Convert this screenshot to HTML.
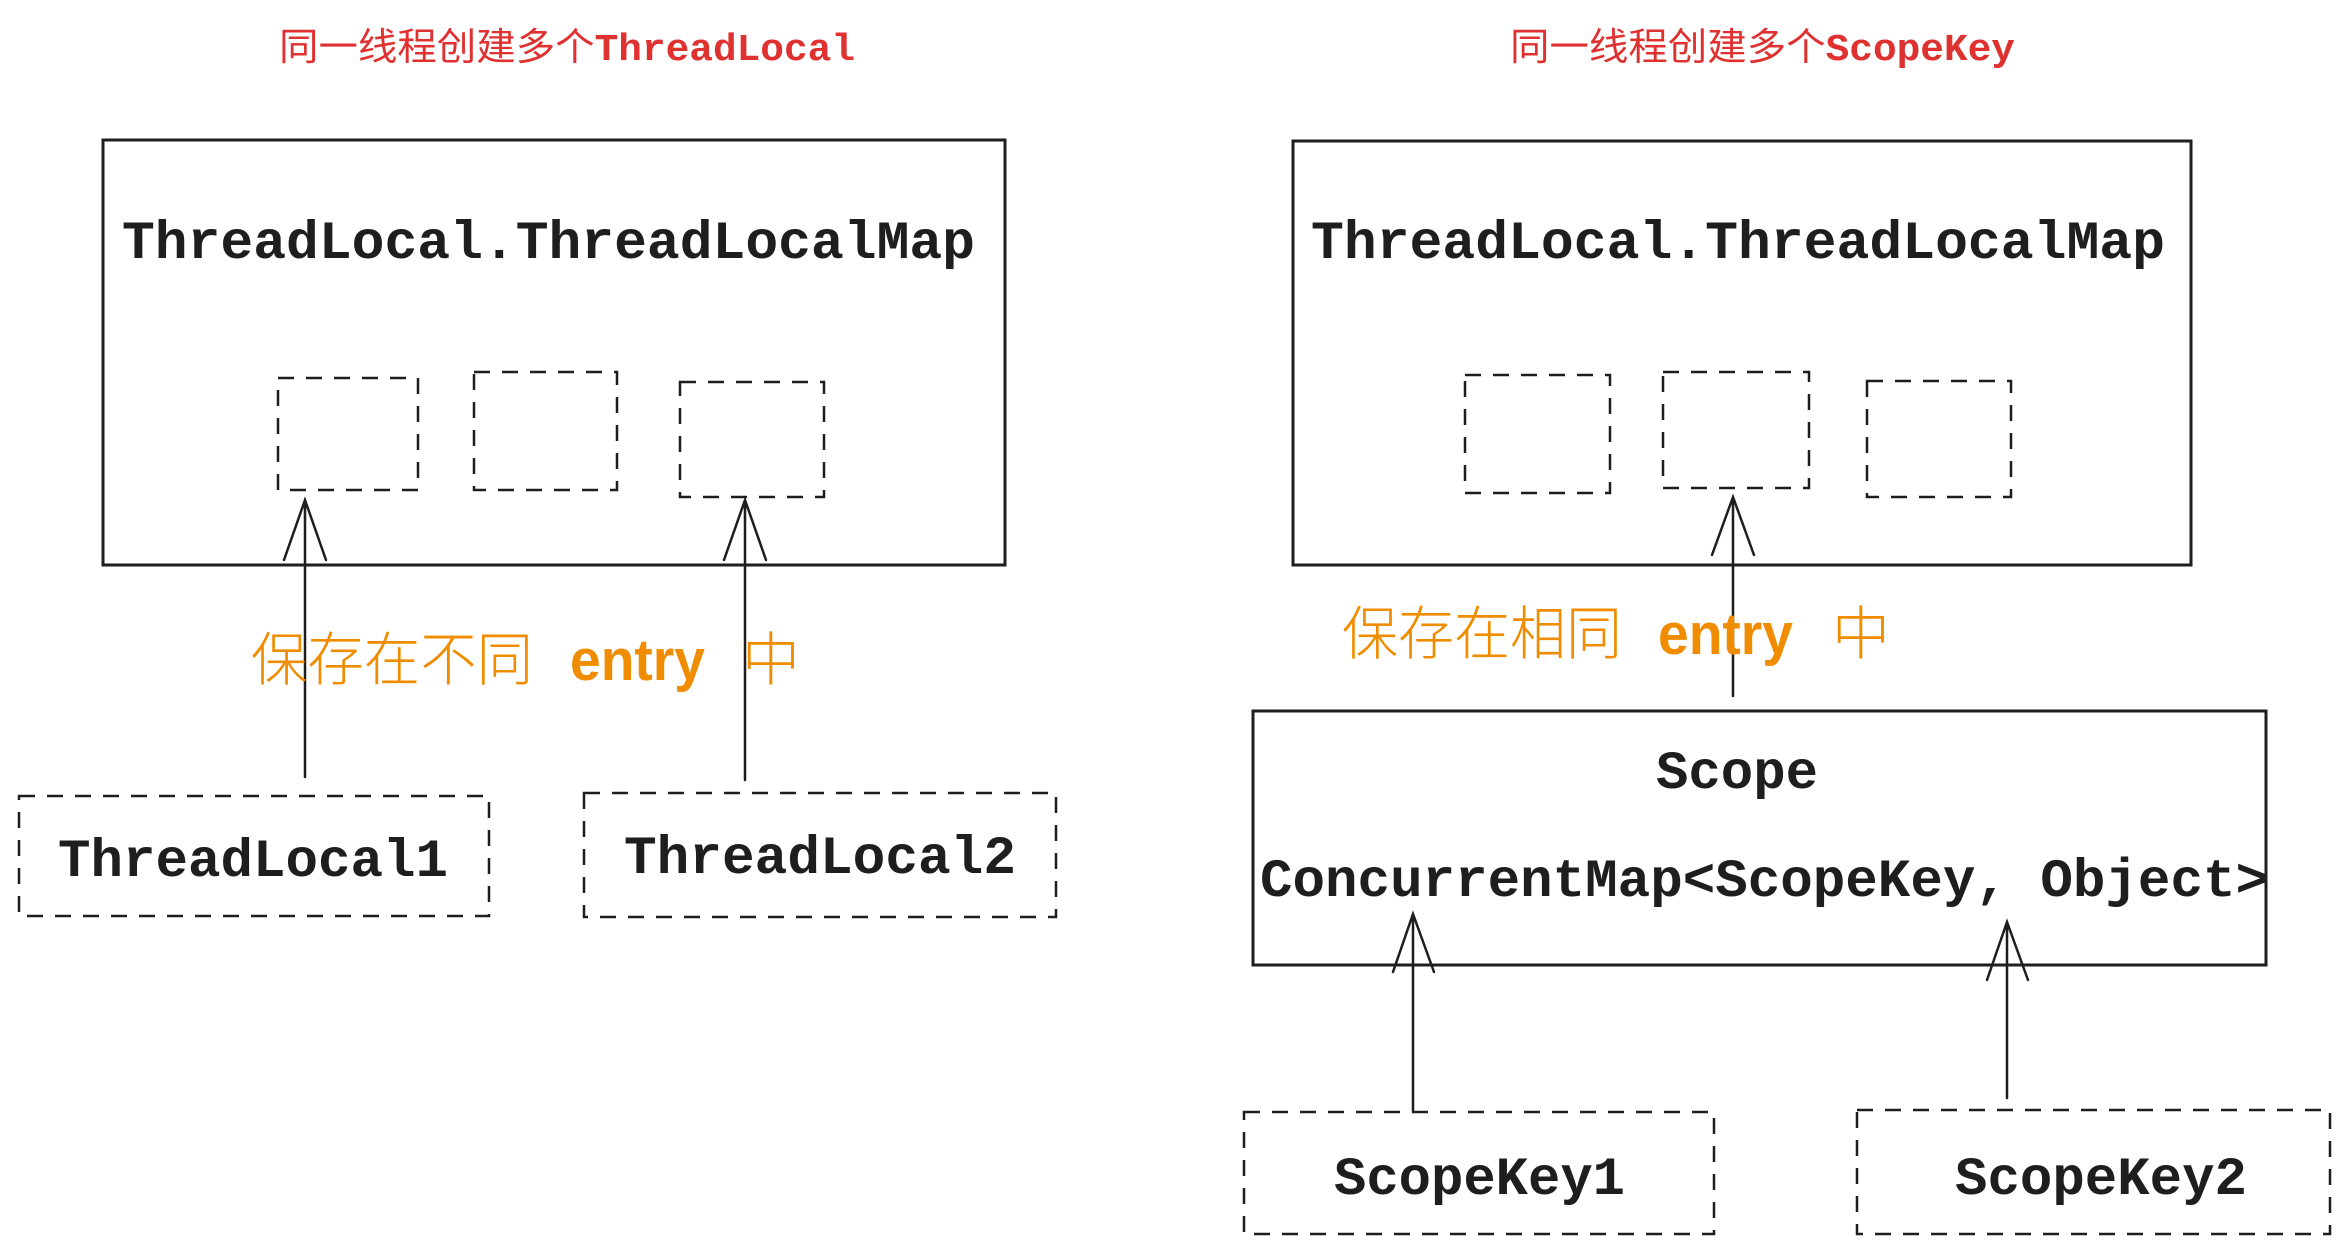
<!DOCTYPE html>
<html><head><meta charset="utf-8"><style>
html,body{margin:0;padding:0;background:#fff;}
svg{display:block;}
.m{font-family:"Liberation Mono",monospace;font-weight:bold;font-size:54px;fill:#1e1e1e;}
.t{font-family:"Liberation Sans","Noto Sans CJK SC",sans-serif;font-size:38px;fill:#e03131;}
.tm{font-family:"Liberation Mono",monospace;font-weight:bold;}
.o{font-family:"Liberation Sans","Noto Sans CJK SC",sans-serif;font-size:58px;fill:#f08c00;font-weight:300;}
.oe{font-family:"Liberation Sans",sans-serif;font-size:58px;fill:#f08c00;font-weight:bold;}
</style></head><body>
<svg width="2342" height="1250" viewBox="0 0 2342 1250" xmlns="http://www.w3.org/2000/svg">
<g fill="none" stroke="#1e1e1e" stroke-width="3">
<rect x="103" y="140" width="902" height="425"/>
<rect x="1293" y="141" width="898" height="424"/>
<rect x="1253" y="711" width="1013" height="254"/>
</g>
<g fill="none" stroke="#1e1e1e" stroke-width="2.5" stroke-dasharray="16 12">
<rect x="278" y="378" width="140" height="112"/>
<rect x="474" y="372" width="143" height="118"/>
<rect x="680" y="382" width="144" height="115"/>
<rect x="1465" y="375" width="145" height="118"/>
<rect x="1663" y="372" width="146" height="116"/>
<rect x="1867" y="381" width="144" height="116"/>
<rect x="19" y="796" width="470" height="120"/>
<rect x="584" y="793" width="472" height="124"/>
<rect x="1244" y="1112" width="470" height="122"/>
<rect x="1857" y="1110" width="473" height="124"/>
</g>
<g fill="none" stroke="#1e1e1e" stroke-width="2.5" stroke-linecap="round">
<path d="M305 777 L305 500 M284 560 L305 500 L326 560"/>
<path d="M745 780 L745 500 M724 560 L745 500 L766 560"/>
<path d="M1733 696 L1733 497 M1712 555 L1733 497 L1754 555"/>
<path d="M1413 1112 L1413 914 M1393 972 L1413 914 L1434 972"/>
<path d="M2007 1098 L2007 922 M1987 980 L2007 922 L2028 980"/>
</g>
<text class="t" x="279" y="60" textLength="576" lengthAdjust="spacingAndGlyphs">同一线程创建多个<tspan class="tm">ThreadLocal</tspan></text>
<text class="t" x="1510" y="60" textLength="505" lengthAdjust="spacingAndGlyphs">同一线程创建多个<tspan class="tm">ScopeKey</tspan></text>
<text class="m" x="122" y="258" textLength="853" lengthAdjust="spacingAndGlyphs">ThreadLocal.ThreadLocalMap</text>
<text class="m" x="1311" y="258" textLength="854" lengthAdjust="spacingAndGlyphs">ThreadLocal.ThreadLocalMap</text>
<text class="m" x="58" y="876" textLength="390" lengthAdjust="spacingAndGlyphs">ThreadLocal1</text>
<text class="m" x="624" y="873" textLength="392" lengthAdjust="spacingAndGlyphs">ThreadLocal2</text>
<text class="m" x="1737" y="788" text-anchor="middle">Scope</text>
<text class="m" x="1260" y="896" textLength="1008" lengthAdjust="spacingAndGlyphs">ConcurrentMap&lt;ScopeKey, Object&gt;</text>
<text class="m" x="1334" y="1194" textLength="291" lengthAdjust="spacingAndGlyphs">ScopeKey1</text>
<text class="m" x="1955" y="1194" textLength="292" lengthAdjust="spacingAndGlyphs">ScopeKey2</text>
<text class="o" x="251" y="680" textLength="282" lengthAdjust="spacingAndGlyphs">保存在不同</text>
<text class="oe" x="570" y="680" textLength="135" lengthAdjust="spacingAndGlyphs">entry</text>
<text class="o" x="742" y="680">中</text>
<text class="o" x="1342" y="654" textLength="280" lengthAdjust="spacingAndGlyphs">保存在相同</text>
<text class="oe" x="1658" y="654" textLength="135" lengthAdjust="spacingAndGlyphs">entry</text>
<text class="o" x="1832" y="654">中</text>
</svg>
</body></html>
